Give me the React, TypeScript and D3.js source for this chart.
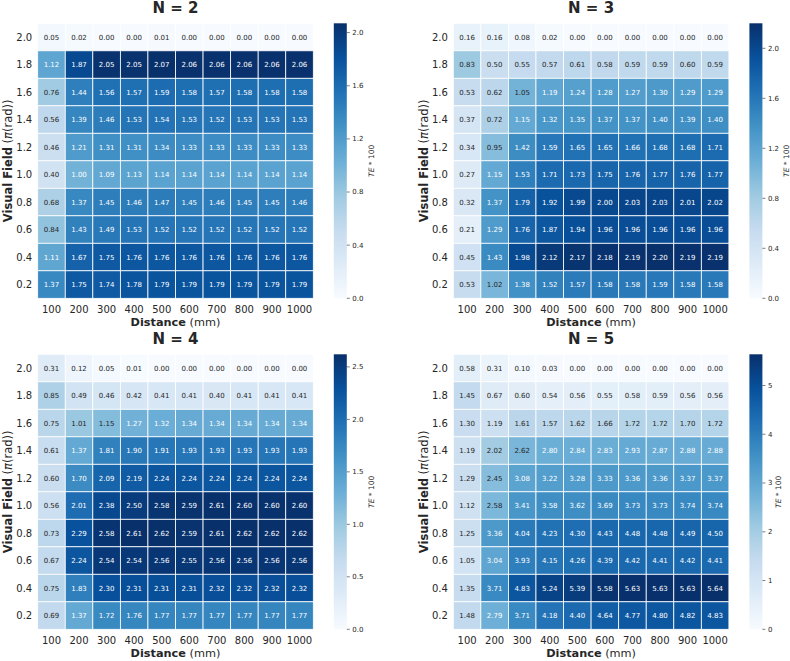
import React from 'react';
import * as d3 from 'd3';

// distance (mm) along x, visual field (pi rad) along y, top row first
const distances = ['100', '200', '300', '400', '500', '600', '700', '800', '900', '1000'];
const visualFields = ['2.0', '1.8', '1.6', '1.4', '1.2', '1.0', '0.8', '0.6', '0.4', '0.2'];

const teN2 = [
    [0.05, 0.02, 0.00, 0.00, 0.01, 0.00, 0.00, 0.00, 0.00, 0.00],
    [1.12, 1.87, 2.05, 2.05, 2.07, 2.06, 2.06, 2.06, 2.06, 2.06],
    [0.76, 1.44, 1.56, 1.57, 1.59, 1.58, 1.57, 1.58, 1.58, 1.58],
    [0.56, 1.39, 1.46, 1.53, 1.54, 1.53, 1.52, 1.53, 1.53, 1.53],
    [0.46, 1.21, 1.31, 1.31, 1.34, 1.33, 1.33, 1.33, 1.33, 1.33],
    [0.40, 1.00, 1.09, 1.13, 1.14, 1.14, 1.14, 1.14, 1.14, 1.14],
    [0.68, 1.37, 1.45, 1.46, 1.47, 1.45, 1.46, 1.45, 1.45, 1.46],
    [0.84, 1.43, 1.49, 1.53, 1.52, 1.52, 1.52, 1.52, 1.52, 1.52],
    [1.11, 1.67, 1.75, 1.76, 1.76, 1.76, 1.76, 1.76, 1.76, 1.76],
    [1.37, 1.75, 1.74, 1.78, 1.79, 1.79, 1.79, 1.79, 1.79, 1.79],
];

const teN3 = [
    [0.16, 0.16, 0.08, 0.02, 0.00, 0.00, 0.00, 0.00, 0.00, 0.00],
    [0.83, 0.50, 0.55, 0.57, 0.61, 0.58, 0.59, 0.59, 0.60, 0.59],
    [0.53, 0.62, 1.05, 1.19, 1.24, 1.28, 1.27, 1.30, 1.29, 1.29],
    [0.37, 0.72, 1.15, 1.32, 1.35, 1.37, 1.37, 1.40, 1.39, 1.40],
    [0.34, 0.95, 1.42, 1.59, 1.65, 1.65, 1.66, 1.68, 1.68, 1.71],
    [0.27, 1.15, 1.53, 1.71, 1.73, 1.75, 1.76, 1.77, 1.76, 1.77],
    [0.32, 1.37, 1.79, 1.92, 1.99, 2.00, 2.03, 2.03, 2.01, 2.02],
    [0.21, 1.29, 1.76, 1.87, 1.94, 1.96, 1.96, 1.96, 1.96, 1.96],
    [0.45, 1.43, 1.98, 2.12, 2.17, 2.18, 2.19, 2.20, 2.19, 2.19],
    [0.53, 1.02, 1.38, 1.52, 1.57, 1.58, 1.58, 1.59, 1.58, 1.58],
];

const teN4 = [
    [0.31, 0.12, 0.05, 0.01, 0.00, 0.00, 0.00, 0.00, 0.00, 0.00],
    [0.85, 0.49, 0.46, 0.42, 0.41, 0.41, 0.40, 0.41, 0.41, 0.41],
    [0.75, 1.01, 1.15, 1.27, 1.32, 1.34, 1.34, 1.34, 1.34, 1.34],
    [0.61, 1.37, 1.81, 1.90, 1.91, 1.93, 1.93, 1.93, 1.93, 1.93],
    [0.60, 1.70, 2.09, 2.19, 2.24, 2.24, 2.24, 2.24, 2.24, 2.24],
    [0.56, 2.01, 2.38, 2.50, 2.58, 2.59, 2.61, 2.60, 2.60, 2.60],
    [0.73, 2.29, 2.58, 2.61, 2.62, 2.59, 2.61, 2.62, 2.62, 2.62],
    [0.67, 2.24, 2.54, 2.54, 2.56, 2.55, 2.56, 2.56, 2.56, 2.56],
    [0.75, 1.83, 2.30, 2.31, 2.31, 2.31, 2.32, 2.32, 2.32, 2.32],
    [0.69, 1.37, 1.72, 1.76, 1.77, 1.77, 1.77, 1.77, 1.77, 1.77],
];

const teN5 = [
    [0.58, 0.31, 0.10, 0.03, 0.00, 0.00, 0.00, 0.00, 0.00, 0.00],
    [1.45, 0.67, 0.60, 0.54, 0.56, 0.55, 0.58, 0.59, 0.56, 0.56],
    [1.30, 1.19, 1.61, 1.57, 1.62, 1.66, 1.72, 1.72, 1.70, 1.72],
    [1.19, 2.02, 2.62, 2.80, 2.84, 2.83, 2.93, 2.87, 2.88, 2.88],
    [1.29, 2.45, 3.08, 3.22, 3.28, 3.33, 3.36, 3.36, 3.37, 3.37],
    [1.12, 2.58, 3.41, 3.58, 3.62, 3.69, 3.73, 3.73, 3.74, 3.74],
    [1.25, 3.36, 4.04, 4.23, 4.30, 4.43, 4.48, 4.48, 4.49, 4.50],
    [1.05, 3.04, 3.93, 4.15, 4.26, 4.39, 4.42, 4.41, 4.42, 4.41],
    [1.35, 3.71, 4.83, 5.24, 5.39, 5.58, 5.63, 5.63, 5.63, 5.64],
    [1.48, 2.79, 3.71, 4.18, 4.40, 4.64, 4.77, 4.80, 4.82, 4.83],
];

const ticksN2 = [0, 0.4, 0.8, 1.2, 1.6, 2.0];
const ticksN3 = [0, 0.4, 0.8, 1.2, 1.6, 2.0];
const ticksN4 = [0, 0.5, 1.0, 1.5, 2.0, 2.5];
const ticksN5 = [0, 1, 2, 3, 4, 5];

// matplotlib "Blues" stops
const bluesStops = ['#f7fbff', '#deebf7', '#c6dbef', '#9ecae1', '#6baed6', '#4292c6', '#2171b5', '#08519c', '#08306b'];

const FONT = "'DejaVu Sans', sans-serif";
const INK = '#262626';

function luminance(color: string) {
    const c = d3.rgb(color);
    const lin = (v: number) => {
        const s = v / 255;
        return s <= 0.03928 ? s / 12.92 : Math.pow((s + 0.055) / 1.055, 2.4);
    };
    return 0.2126 * lin(c.r) + 0.7152 * lin(c.g) + 0.0722 * lin(c.b);
}

interface HeatmapProps {
    id: string;
    title: string;
    data: number[][];
    ticks: number[];
    tickFormat: string;
    x0: number;
    y0: number;
}

const Heatmap: React.FC<HeatmapProps> = ({ id, title, data, ticks, tickFormat, x0, y0 }) => {
    const w = 275.6;
    const h = 275;
    const vmax = d3.max(data.flat()) || 1;

    const x = d3.scaleBand().domain(distances).range([x0, x0 + w]);
    const y = d3.scaleBand().domain(visualFields).range([y0, y0 + h]);

    const color = d3.scaleLinear<string>()
        .domain(bluesStops.map((_, i) => (i / (bluesStops.length - 1)) * vmax))
        .range(bluesStops)
        .interpolate(d3.interpolateRgb)
        .clamp(true);

    const cbX = x0 + w + 20.5;
    const cbW = 13;
    const cb = d3.scaleLinear().domain([0, vmax]).range([y0 + h, y0]);
    const fmt = d3.format(tickFormat);
    const maxLabelW = d3.max(ticks, t => fmt(t).length * 0.62 * 7) || 0;
    const cbLabelX = cbX + cbW + 3 + 2.5 + maxLabelW + 8.5;
    const cx = x0 + w / 2;
    const cy = y0 + h / 2;

    return (
        <g fontFamily={FONT}>
            <text x={cx} y={y0 - 10} textAnchor="middle" fontSize={15} fontWeight="bold" fill={INK}>{title}</text>

            {data.map((row, ri) => row.map((v, ci) => {
                const fill = color(v);
                return (
                    <g key={`${ri}-${ci}`}>
                        <rect x={x(distances[ci])} y={y(visualFields[ri])} width={x.bandwidth()} height={y.bandwidth()}
                            fill={fill} stroke="white" strokeWidth={0.8} />
                        <text x={x(distances[ci])! + x.bandwidth() / 2} y={y(visualFields[ri])! + y.bandwidth() / 2}
                            dy="0.35em" textAnchor="middle" fontSize={7}
                            fill={luminance(fill) > 0.408 ? INK : 'white'}>{v.toFixed(2)}</text>
                    </g>
                );
            }))}

            {distances.map(d => (
                <text key={d} x={x(d)! + x.bandwidth() / 2} y={y0 + h + 14.5} textAnchor="middle" fontSize={10} fill={INK}>{d}</text>
            ))}
            {visualFields.map(v => (
                <text key={v} x={x0 - 5.5} y={y(v)! + y.bandwidth() / 2} dy="0.35em" textAnchor="end" fontSize={10} fill={INK}>{v}</text>
            ))}

            <text x={cx} y={y0 + h + 27.5} textAnchor="middle" fontSize={11.3} fill={INK}>
                <tspan fontWeight="bold">Distance</tspan> (mm)
            </text>
            <text transform={`translate(${x0 - 25.5},${cy}) rotate(-90)`} textAnchor="middle" fontSize={11.5} fill={INK}>
                <tspan fontWeight="bold">Visual Field</tspan> (<tspan fontStyle="italic">π</tspan>(rad))
            </text>

            <defs>
                <linearGradient id={id} x1="0" y1="1" x2="0" y2="0">
                    {bluesStops.map((c, i) => (
                        <stop key={i} offset={i / (bluesStops.length - 1)} stopColor={c} />
                    ))}
                </linearGradient>
            </defs>
            <rect x={cbX} y={y0} width={cbW} height={h} fill={`url(#${id})`} />
            {ticks.map(t => (
                <g key={t}>
                    <line x1={cbX + cbW} x2={cbX + cbW + 3} y1={cb(t)} y2={cb(t)} stroke={INK} strokeWidth={0.6} />
                    <text x={cbX + cbW + 5.5} y={cb(t)} dy="0.35em" fontSize={7} fill={INK}>{fmt(t)}</text>
                </g>
            ))}
            <text transform={`translate(${cbLabelX},${cy}) rotate(-90)`} textAnchor="middle" fontSize={7.5} fill={INK}>
                <tspan fontStyle="italic">TE</tspan>{' * 100'}
            </text>
        </g>
    );
};

export default function App() {
    return (
        <svg width={790} height={661} style={{ position: 'absolute', left: 0, top: 0, background: 'white' }}>
            <Heatmap id="cb2" title="N = 2" data={teN2} ticks={ticksN2} tickFormat=".1f" x0={37.7} y0={23.3} />
            <Heatmap id="cb3" title="N = 3" data={teN3} ticks={ticksN3} tickFormat=".1f" x0={453.3} y0={23.3} />
            <Heatmap id="cb4" title="N = 4" data={teN4} ticks={ticksN4} tickFormat=".1f" x0={37.7} y0={354.3} />
            <Heatmap id="cb5" title="N = 5" data={teN5} ticks={ticksN5} tickFormat="d" x0={453.3} y0={354.3} />
        </svg>
    );
}
